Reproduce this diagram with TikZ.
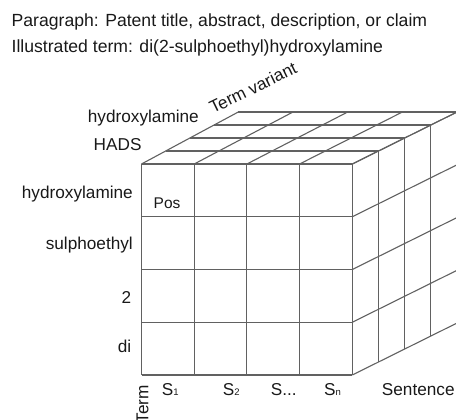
\documentclass[tikz,border=0pt]{standalone}
\usepackage{fontspec}
\setmainfont{Liberation Sans}
\usepackage{tikz}
\tikzset{gridline/.style={draw=black!62,line width=1.1pt},
         titletext/.style={anchor=base west,inner sep=0,text=black!90,font=\fontsize{17.6}{20}\selectfont},
         lbl/.style={anchor=base east,inner sep=0,text=black!90,font=\fontsize{17.2}{19}\selectfont},
         axislbl/.style={anchor=base west,inner sep=0,text=black!90,font=\fontsize{17.2}{19}\selectfont},
         poslbl/.style={anchor=base west,inner sep=0,text=black!90,font=\fontsize{15.5}{17}\selectfont}}
\newcommand{\smallidx}[1]{{\fontsize{9.5}{10}\selectfont #1}}

\begin{document}
\begin{tikzpicture}[x=1pt,y=-1pt]
\useasboundingbox (0,0) rectangle (456,420);

%%header
\node[titletext] (para) at (11.5,27) {Paragraph: Patent title, abstract, description, or claim};
\node[titletext] (term) at (11.5,53) {Illustrated term: di(2-sulphoethyl)hydroxylamine};

%%cube corners: column i, row j, depth k
\foreach \i in {0,...,4} {
  \foreach \j in {0,...,4} {
    \foreach \k in {0,...,4} {
      \coordinate (p\i\j\k) at ({141.5+52.7*\i+\k*(24.2+0.5*\i)},{164+52.75*\j-13*\k});
    }
  }
}

%%front face
\foreach \i in {0,...,4} {
  \draw[gridline] (p\i00) -- (p\i40);
  \draw[gridline] (p0\i0) -- (p4\i0);
}
%%top face
\foreach \i in {0,...,4} {
  \draw[gridline] (p\i00) -- (p\i04);
  \draw[gridline] (p00\i) -- (p40\i);
}
%%right face
\foreach \i in {0,...,4} {
  \draw[gridline] (p4\i0) -- (p4\i4);
  \draw[gridline] (p40\i) -- (p44\i);
}

%%term variants on top
\node[lbl] (hyd2) at (199,123) {hydroxylamine};
\node[lbl] (hads) at (141.7,150.7) {HADS};
\node[axislbl,rotate=26] (variant) at (213,114) {Term variant};

%%terms on the left
\node[lbl] (hyd) at (133,199) {hydroxylamine};
\node[lbl] (sulph) at (133,249) {sulphoethyl};
\node[lbl] (two) at (131.5,303) {2};
\node[lbl] (di) at (131.5,352) {di};
\node[poslbl] (pos) at (153.5,208.3) {Pos};

%%sentences below
\node[axislbl] (s1) at (161.7,395) {S\smallidx{1}};
\node[axislbl] (s2) at (222.7,395) {S\smallidx{2}};
\node[axislbl] (sdots) at (270.7,395) {S...};
\node[axislbl] (sn) at (324,395) {S\smallidx{n}};
\node[axislbl] (sentence) at (381.7,395) {Sentence};
\node[lbl,rotate=90] (termaxis) at (148.3,385) {Term};

\end{tikzpicture}
\end{document}
